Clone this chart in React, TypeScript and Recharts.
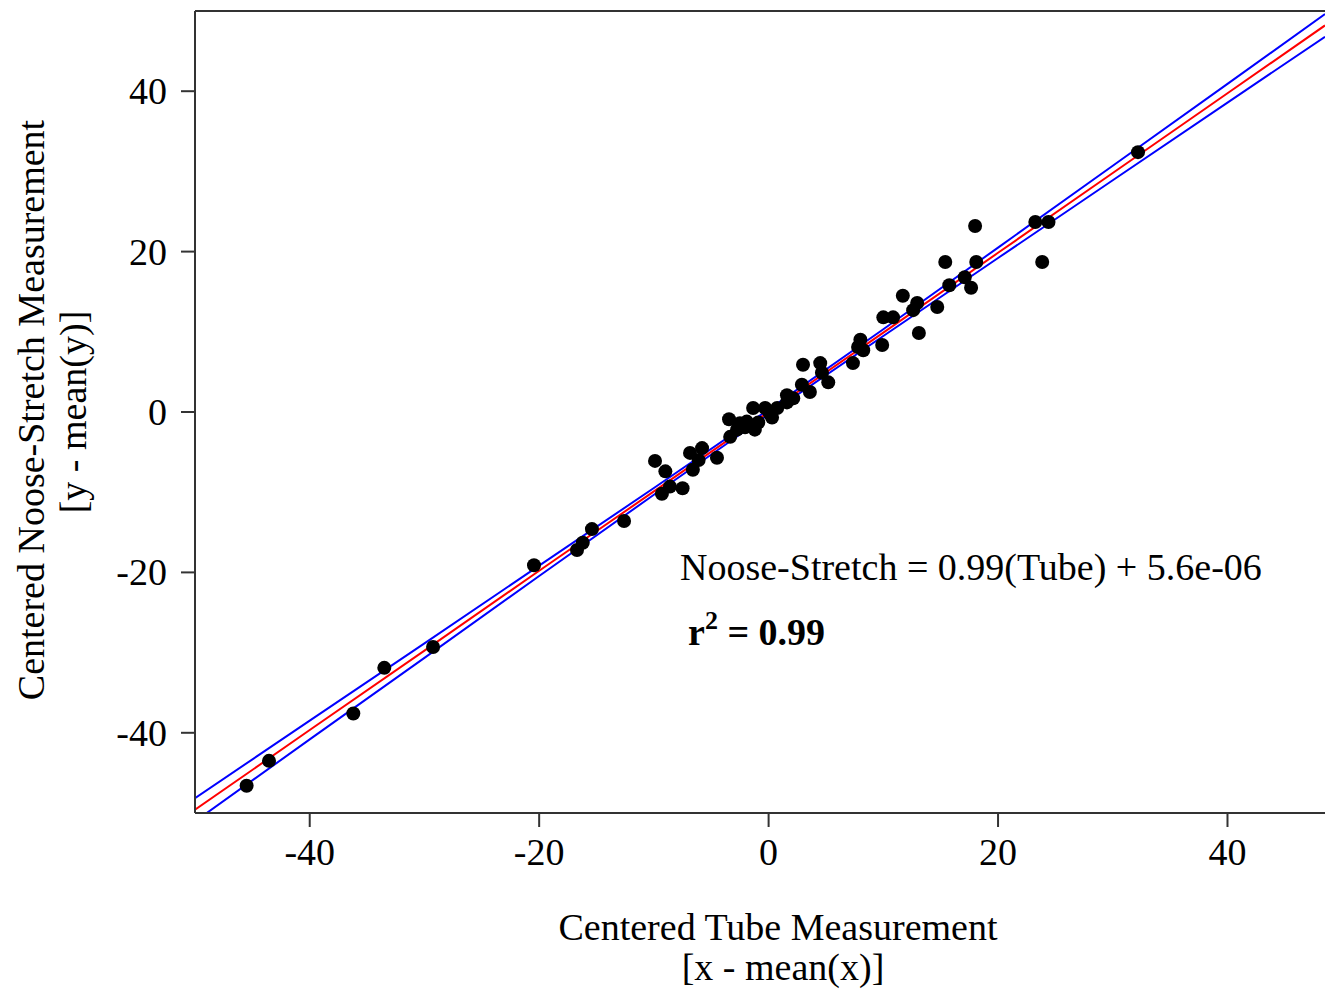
import React from "react";
import { ComposedChart, XAxis, YAxis, Line, Scatter, ReferenceLine } from "recharts";

// Observed centered measurements (tube x, noose-stretch y)
const tubeX = [
  -45.5, -43.55, -36.2, -33.5, -29.25, -20.45, -16.7, -16.2, -15.4, -12.6,
  -9.9, -9.0, -9.3, -8.6, -7.5, -6.85, -6.6, -5.8, -6.1, -4.5,
  -3.45, -3.35, -2.75, -2.5, -1.9, -1.35, -1.2, -2.05, -0.3, 0.3,
  0.75, 1.6, 1.6, 2.15, 2.9, 3.6, 3.0, 4.5, 4.65, 5.2,
  7.35, 7.8, 8.0, 8.25, 9.9, 10.0, 10.85, 11.7, 12.95, 12.6,
  13.1, 14.7, 15.75, 15.4, 17.1, 17.65, 18.0, 18.1, 23.25, 24.4,
  23.85, 32.2, -0.9, 0.1,
];
const nooseY = [
  -46.6, -43.5, -37.6, -31.9, -29.3, -19.1, -17.2, -16.3, -14.6, -13.6,
  -6.1, -7.4, -10.2, -9.3, -9.5, -5.1, -7.2, -4.5, -6.0, -5.7,
  -0.9, -3.1, -2.2, -1.4, -1.2, 0.5, -2.2, -1.9, 0.5, -0.7,
  0.5, 1.2, 2.1, 1.7, 3.4, 2.5, 5.9, 6.1, 4.9, 3.7,
  6.1, 8.1, 9.0, 7.7, 8.35, 11.8, 11.8, 14.5, 13.6, 12.7,
  9.85, 13.1, 15.8, 18.7, 16.8, 15.5, 23.2, 18.7, 23.7, 23.7,
  18.7, 32.4, -1.3, -0.2,
];

// Fitted line and confidence band
const fitX = [-50, -40, -30, -20, -10, 0, 10, 20, 30, 40, 48.5];
const fitY = [-49.6, -39.65, -29.75, -19.8, -9.9, 0, 9.9, 19.85, 29.8, 39.75, 48.2];
const upperY = [-48.15, -38.48, -28.85, -19.15, -9.48, 0.3, 10.32, 20.5, 30.7, 40.92, 49.62];
const lowerY = [-51.05, -40.82, -30.65, -20.45, -10.32, -0.3, 9.48, 19.2, 28.9, 38.58, 46.78];

const xTicks = [-40, -20, 0, 20, 40];
const yTicks = [-40, -20, 0, 20, 40];

const points = tubeX.map((x, i) => ({ x, y: nooseY[i] }));
const fitData = fitX.map((x, i) => ({ x, y: fitY[i] }));
const upperData = fitX.map((x, i) => ({ x, y: upperY[i] }));
const lowerData = fitX.map((x, i) => ({ x, y: lowerY[i] }));

const FONT = '"Liberation Serif", "Times New Roman", serif';

const XTick = (props: any) => {
  const { x, y, payload } = props;
  return (
    <text x={x} y={y} dy={36} textAnchor="middle" fontFamily={FONT} fontSize={38} fill="#000">
      {payload.value}
    </text>
  );
};

const YTick = (props: any) => {
  const { x, y, payload } = props;
  return (
    <text x={x} y={y} dy={13} textAnchor="end" fontFamily={FONT} fontSize={38} fill="#000">
      {payload.value}
    </text>
  );
};

const Dot = (props: any) => <circle cx={props.cx} cy={props.cy} r={7} fill="#000" />;

export default function App() {
  return (
    <div style={{ position: "absolute", left: 0, top: 0, width: 1325, height: 993, background: "#fff" }}>
      <ComposedChart
        width={1325}
        height={993}
        margin={{ top: 11, right: 0, bottom: 0, left: 0 }}
      >
        <XAxis
          type="number"
          dataKey="x"
          domain={[-50, 48.5]}
          allowDataOverflow
          ticks={xTicks}
          height={180}
          tickSize={14}
          tickMargin={2}
          axisLine={{ stroke: "#333", strokeWidth: 2 }}
          tickLine={{ stroke: "#333", strokeWidth: 2 }}
          tick={<XTick />}
        />
        <YAxis
          type="number"
          dataKey="y"
          domain={[-50, 50]}
          allowDataOverflow
          ticks={yTicks}
          width={195}
          tickSize={14}
          tickMargin={14}
          axisLine={{ stroke: "#333", strokeWidth: 2 }}
          tickLine={{ stroke: "#333", strokeWidth: 2 }}
          tick={<YTick />}
        />
        <ReferenceLine y={50} stroke="#333" strokeWidth={2} />
        <Line data={upperData} dataKey="y" stroke="#0000ff" strokeWidth={2} dot={false} isAnimationActive={false} />
        <Line data={lowerData} dataKey="y" stroke="#0000ff" strokeWidth={2} dot={false} isAnimationActive={false} />
        <Line data={fitData} dataKey="y" stroke="#ff0000" strokeWidth={2} dot={false} isAnimationActive={false} />
        <Scatter data={points} dataKey="y" shape={<Dot />} isAnimationActive={false} />
      </ComposedChart>
      <svg
        width={1325}
        height={993}
        style={{ position: "absolute", left: 0, top: 0, pointerEvents: "none" }}
      >
        <g fontFamily={FONT} fill="#000">
          <text x={778} y={940} textAnchor="middle" fontSize={38}>Centered Tube Measurement</text>
          <text x={783} y={980} textAnchor="middle" fontSize={38}>[x - mean(x)]</text>
          <text x={44} y={410} textAnchor="middle" fontSize={38} transform="rotate(-90 44 410)">
            Centered Noose-Stretch Measurement
          </text>
          <text x={86} y={412} textAnchor="middle" fontSize={38} transform="rotate(-90 86 412)">
            [y - mean(y)]
          </text>
          <text x={680} y={580} fontSize={38}>Noose-Stretch = 0.99(Tube) + 5.6e-06</text>
          <text x={688} y={645} fontSize={38} fontWeight="bold">
            r<tspan fontSize={26} dy={-16}>2</tspan>
            <tspan dy={16}> = 0.99</tspan>
          </text>
        </g>
      </svg>
    </div>
  );
}
